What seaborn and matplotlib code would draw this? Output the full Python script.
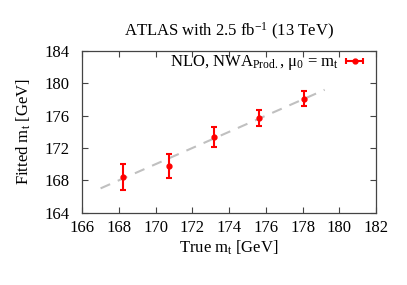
import numpy as np
import pandas as pd
import matplotlib
matplotlib.use('Agg')
import matplotlib.pyplot as plt
import seaborn as sns

# values
true_mt = [168.2, 170.7, 173.15, 175.65, 178.1]
fitted_mt = [168.4, 169.8, 173.4, 175.75, 178.1]
fitted_err = [1.6, 1.5, 1.25, 1.0, 0.9]
diag_x = [167.0, 179.2]

sns.set_theme(style='ticks')
plt.rcParams['font.family'] = ['Liberation Serif', 'DejaVu Serif']
plt.rcParams['mathtext.fontset'] = 'stix'
plt.rcParams['mathtext.default'] = 'regular'
plt.rcParams['text.color'] = 'black'
plt.rcParams['axes.labelcolor'] = 'black'
plt.rcParams['xtick.color'] = 'black'
plt.rcParams['ytick.color'] = 'black'

df = pd.DataFrame({'true': true_mt, 'fit': fitted_mt, 'err': fitted_err})
diag = pd.DataFrame({'x': diag_x, 'y': diag_x})

fig = plt.figure(figsize=(4.07, 2.85), dpi=100)
ax = fig.add_axes([0.202, 0.254, 0.722, 0.567])

sns.lineplot(data=diag, x='x', y='y', ax=ax, color='#c0c0c0', lw=1.5,
             legend=False)
ax.lines[-1].set_dashes((5, 4))

ax.errorbar(df['true'], df['fit'], yerr=df['err'], fmt='o', color='red',
            ms=3.5, elinewidth=1.5, capsize=2, capthick=1.5)

# legend handle drawn horizontally like the gnuplot key
h = ax.errorbar([np.nan], [np.nan], xerr=[1], fmt='o', color='red',
                ms=3.5, elinewidth=1.5, capsize=2, capthick=1.5)
ax.legend([h], [r'NLO, NWA$_{Prod.}$, $\mu_0$ = m$_t$'],
          loc='upper right', bbox_to_anchor=(0.975, 0.985),
          frameon=False, markerfirst=False,
          handlelength=1.7, handletextpad=0.1, borderaxespad=0.0,
          borderpad=0.0, fontsize=12)

ax.set_xlim(166, 182)
ax.set_ylim(164, 184)
ax.set_xticks(np.arange(166, 183, 2))
ax.set_yticks(np.arange(164, 185, 4))
ax.tick_params(direction='in', top=True, right=True, length=4,
               width=0.8, color='#444444', labelsize=12, pad=5)
ax.tick_params(axis='y', pad=9)
for s in ax.spines.values():
    s.set_color('#444444')
    s.set_linewidth(0.9)

ax.set_xlabel(r'True m$_t$ [GeV]', fontsize=12, labelpad=2)
ax.set_ylabel(r'Fitted m$_t$ [GeV]', fontsize=12, labelpad=8)
ax.set_title(r'ATLAS with 2.5 fb$^{-1}$ (13 TeV)', fontsize=12, pad=11)

fig.savefig('out.png', dpi=100)
